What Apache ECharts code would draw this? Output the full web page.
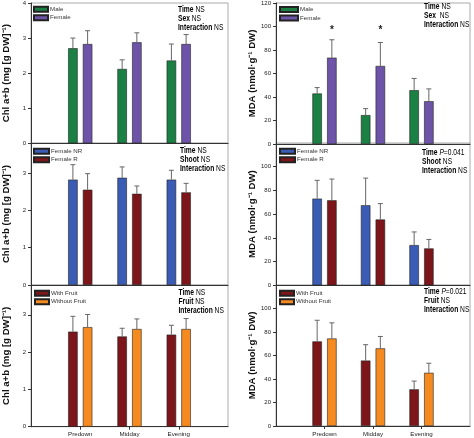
<!DOCTYPE html>
<html><head><meta charset="utf-8">
<script src="https://cdn.jsdelivr.net/npm/echarts@6/dist/echarts.min.js"></script>
<style>html,body{margin:0;padding:0;background:#fff}#c{width:474px;height:438px}</style>
</head><body><div id="c"></div>
<script>
// ---- data ----
const categories = ['Predown', 'Midday', 'Evening'];
const chlTicks = [0, 1, 2, 3, 4];
const mdaTicks = [0, 20, 40, 60, 80, 100, 120];

const chlMale = [2.71, 2.12, 2.36];
const chlMaleSE = [0.29, 0.26, 0.47];
const chlFemale = [2.83, 2.88, 2.83];
const chlFemaleSE = [0.38, 0.27, 0.27];

const mdaMale = [43.0, 24.6, 45.8];
const mdaMaleSE = [5.0, 5.5, 10.0];
const mdaFemale = [73.5, 66.4, 36.4];
const mdaFemaleSE = [15.2, 20.0, 10.5];
const mdaSexSig = ['*', '*', ''];

const chlNR = [2.82, 2.87, 2.82];
const chlNRSE = [0.40, 0.29, 0.25];
const chlR = [2.55, 2.44, 2.48];
const chlRSE = [0.43, 0.21, 0.24];

const mdaNR = [73.1, 67.5, 33.9];
const mdaNRSE = [15.4, 22.9, 11.1];
const mdaR = [71.7, 55.5, 31.1];
const mdaRSE = [17.9, 13.4, 7.6];

const chlWith = [2.55, 2.42, 2.47];
const chlWithSE = [0.41, 0.22, 0.25];
const chlWithout = [2.67, 2.62, 2.62];
const chlWithoutSE = [0.34, 0.27, 0.28];

const mdaWith = [72.0, 55.7, 31.2];
const mdaWithSE = [18.0, 13.5, 7.0];
const mdaWithout = [74.5, 66.1, 45.3];
const mdaWithoutSE = [13.3, 10.1, 8.1];

// ---- styling ----
const FONT = '"Liberation Sans", Arial, sans-serif';
const C = {green:'#1b8043', purple:'#6e54a8', blue:'#3b5cb4', red:'#7c161a', orange:'#f48a20'};
const BAR_W = 9.5, GAP = 5.2, OFF = (BAR_W + GAP) / 2;

const grids = [
  {left:30, top:2, width:198, height:141.3},
  {left:276, top:2.4, width:194, height:141.6},
  {left:30, top:143, width:198, height:142},
  {left:276, top:143, width:194, height:142.3},
  {left:30, top:285, width:198, height:141.7},
  {left:276, top:285, width:194, height:141}
];
const xCats = [''].concat(categories, ['']);

const chlTitle = 'Chl a+b (mg [g DW]\u207B\u00B9)';
const mdaTitle = 'MDA (nmol\u00B7g\u207B\u00B9 DW)';

const xAxes = grids.map((g, i) => ({
  type:'category', gridIndex:i, data:xCats, boundaryGap:false,
  axisLine:{show:true, lineStyle:{color:'#333', width:1}},
  axisTick:{show:i>=4, length:3, interval:(idx)=>idx>0 && idx<4, lineStyle:{color:'#333'}},
  axisLabel:{show:i>=4, interval:0, fontSize:6.2, color:'#222', fontFamily:FONT, margin:5},
  splitLine:{show:false}
}));

const yAxes = grids.map((g, i) => {
  const chl = i % 2 === 0;
  const ticks = chl ? chlTicks : mdaTicks;
  return {
    type:'value', gridIndex:i, min:0,
    max: chl ? (i === 0 ? ticks[ticks.length-1] : 3.8) : ticks[ticks.length-1],
    interval: ticks[1] - ticks[0],
    name: chl ? chlTitle : mdaTitle,
    nameLocation:'middle', nameGap: chl ? 20 : 14, nameRotate:90,
    nameTextStyle:{fontSize:9.6, fontWeight:'bold', color:'#111', fontFamily:FONT},
    axisLine:{show:true, lineStyle:{color:'#333', width:1}},
    axisTick:{show:true, length:3, inside:false, lineStyle:{color:'#333'}},
    axisLabel:{fontSize:6, color:'#222', fontFamily:FONT, margin:5,
      showMaxLabel: i < 2,
      formatter:(v)=> (ticks.indexOf(v) >= 0 ? String(v) : '')},
    splitLine:{show:false}
  };
});

function barSeries(name, vals, color, gi) {
  return {
    type:'bar', name, xAxisIndex:gi, yAxisIndex:gi, barWidth:BAR_W, barGap:(GAP/BAR_W*100)+'%',
    itemStyle:{color, borderColor:'#222', borderWidth:0.6},
    data: vals.map((v, k) => [k + 1, v]), z:2
  };
}
function errSeries(vals, se, offset, gi, sig) {
  return {
    type:'custom', xAxisIndex:gi, yAxisIndex:gi, z:3, silent:true,
    data: vals.map((v, k) => [k + 1, v, v + se[k], sig ? sig[k] : '']),
    renderItem:(params, api) => {
      const x = api.coord([api.value(0), api.value(1)]);
      const t = api.coord([api.value(0), api.value(2)]);
      const cx = x[0] + offset;
      const children = [
        {type:'line', shape:{x1:cx, y1:x[1], x2:cx, y2:t[1]}, style:{stroke:'#666', lineWidth:1}},
        {type:'line', shape:{x1:cx-2.5, y1:t[1], x2:cx+2.5, y2:t[1]}, style:{stroke:'#666', lineWidth:1}}
      ];
      const s = api.value(3);
      if (s) {
        const p = api.coord([api.value(0), 97]);
        children.push({type:'text', style:{x:cx, y:p[1], text:s, fontSize:10, fontWeight:'bold',
          fill:'#222', align:'center', verticalAlign:'middle', fontFamily:FONT}});
      }
      return {type:'group', children};
    }
  };
}

const panels = [
  {a:['Male', chlMale, chlMaleSE, C.green], b:['Female', chlFemale, chlFemaleSE, C.purple]},
  {a:['Male', mdaMale, mdaMaleSE, C.green], b:['Female', mdaFemale, mdaFemaleSE, C.purple], sig:mdaSexSig},
  {a:['Female NR', chlNR, chlNRSE, C.blue], b:['Female R', chlR, chlRSE, C.red]},
  {a:['Female NR', mdaNR, mdaNRSE, C.blue], b:['Female R', mdaR, mdaRSE, C.red]},
  {a:['With Fruit', chlWith, chlWithSE, C.red], b:['Without Fruit', chlWithout, chlWithoutSE, C.orange]},
  {a:['With Fruit', mdaWith, mdaWithSE, C.red], b:['Without Fruit', mdaWithout, mdaWithoutSE, C.orange]}
];

const series = [];
panels.forEach((p, gi) => {
  series.push(barSeries(p.a[0], p.a[1], p.a[3], gi));
  series.push(barSeries(p.b[0], p.b[1], p.b[3], gi));
  series.push(errSeries(p.a[1], p.a[2], -OFF, gi, null));
  series.push(errSeries(p.b[1], p.b[2], OFF, gi, p.sig || null));
});

const legendPos = [
  {left:33, top:5, w:14}, {left:279, top:5.2, w:18},
  {left:33, top:147, w:15}, {left:279, top:147, w:15},
  {left:34, top:289, w:14}, {left:279, top:289, w:14}
];
const legends = panels.map((p, i) => ({
  left:legendPos[i].left, top:legendPos[i].top, orient:'vertical', padding:0,
  data:[p.a[0], p.b[0]], itemWidth:legendPos[i].w, itemHeight:5, itemGap:0,
  icon:'rect', selectedMode:false,
  textStyle:{fontSize:6.2, color:'#333', fontFamily:FONT, lineHeight:8.5, padding:[0,0,0,-3]}
}));

const rich = {
  b:{fontWeight:'bold', fontSize:8.4, lineHeight:9, color:'#222', fontFamily:FONT},
  n:{fontSize:8.4, lineHeight:9, color:'#555', fontFamily:FONT},
  i:{fontSize:8.4, lineHeight:9, fontStyle:'italic', color:'#555', fontFamily:FONT}
};
const notes = [
  {x:178, y:5.5, t:'{b|Time} {n|NS}\n{b|Sex} {n|NS}\n{b|Interaction} {n|NS}'},
  {x:424, y:2.5, t:'{b|Time} {n|NS}\n{b|Sex}  {n|NS}\n{b|Interaction} {n|NS}'},
  {x:180, y:146.5, t:'{b|Time} {n|NS}\n{b|Shoot} {n|NS}\n{b|Interaction} {n|NS}'},
  {x:422, y:148, t:'{b|Time} {i|P}{n|=0.041}\n{b|Shoot} {n|NS}\n{b|Interaction} {n|NS}'},
  {x:178.5, y:288, t:'{b|Time} {n|NS}\n{b|Fruit} {n|NS}\n{b|Interaction} {n|NS}'},
  {x:424, y:287, t:'{b|Time} {i|P}{n|=0.021}\n{b|Fruit} {n|NS}\n{b|Interaction} {n|NS}'}
];
const graphic = notes.map(n => ({
  type:'text', x:n.x, y:n.y, scaleX:0.8, scaleY:1, z:10,
  style:{x:0, y:0, text:n.t, rich, fontFamily:FONT, fontSize:8.4, lineHeight:9, verticalAlign:'top', align:'left'}
}));

const chart = echarts.init(document.getElementById('c'), null, {renderer:'canvas'});
chart.setOption({
  animation:false,
  backgroundColor:'#fff',
  grid: grids.map(g => Object.assign({show:true, borderColor:'#aaa', borderWidth:1, containLabel:false}, g)),
  xAxis:xAxes, yAxis:yAxes, legend:legends, series, graphic
});
</script></body></html>
